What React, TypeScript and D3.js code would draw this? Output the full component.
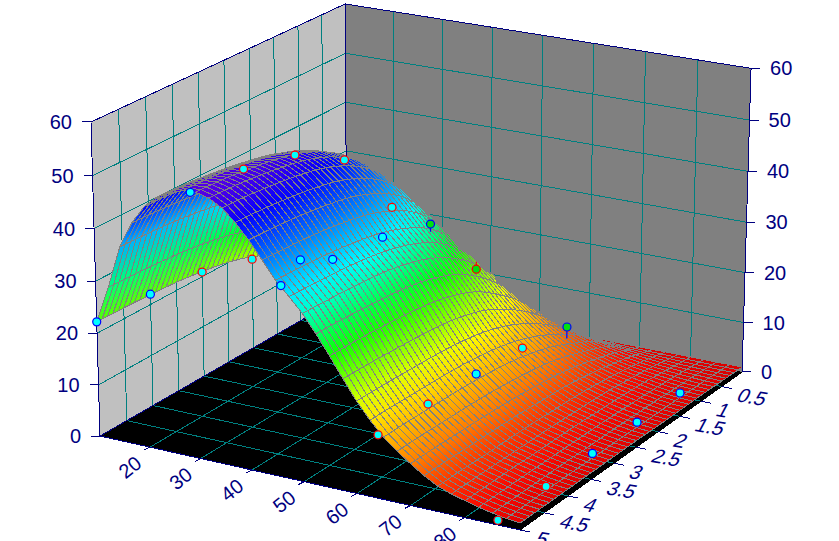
import React from "react";
import * as d3 from "d3";

const W = 839, H = 541;
const xTicks = [20, 30, 40, 50, 60, 70, 80];
const yTicks = [0.5, 1, 1.5, 2, 2.5, 3, 3.5, 4, 4.5, 5];
const zTicks = [0, 10, 20, 30, 40, 50, 60];

// surface readings: one row per y value, one column per x value
const surfaceX = [10, 15, 20, 25, 30, 35, 40, 45, 50, 55, 60, 65, 70, 75, 80, 85, 90];
const surfaceY = [0, 0.5, 1, 1.5, 2, 2.5, 3, 3.5, 4, 4.5, 5];
const surfaceZ = [
  [1, 1, 1, 1, 1, 1, 1, 1, 1, 1, 1, 1, 1, 1, 1, 1, 1],
  [7.1, 11.6, 14.1, 15.1, 15.4, 14.8, 13.3, 11.4, 9.6, 7.5, 5.5, 4.0, 2.9, 2.1, 1.6, 1.3, 1.1],
  [12.2, 20.3, 24.9, 26.7, 27.2, 26.2, 23.5, 20.1, 16.7, 12.8, 9.2, 6.4, 4.4, 3.0, 2.2, 1.5, 1.2],
  [16.1, 26.9, 33.0, 35.4, 36.1, 34.7, 31.2, 26.6, 22.2, 17.0, 12.2, 8.5, 5.7, 3.7, 2.6, 1.7, 1.2],
  [18.6, 31.3, 38.4, 41.3, 42.1, 40.4, 36.3, 30.9, 26.0, 20.3, 14.4, 9.9, 6.6, 4.2, 2.8, 1.8, 1.2],
  [20.1, 33.9, 41.5, 44.7, 45.6, 43.8, 39.3, 33.4, 28.5, 22.3, 15.8, 10.8, 7.1, 4.4, 3.0, 1.9, 1.3],
  [21.0, 35.5, 43.5, 46.8, 47.8, 45.9, 41.2, 35.0, 30.0, 23.5, 16.6, 11.3, 7.5, 4.6, 3.1, 1.9, 1.3],
  [21.6, 36.4, 44.7, 48.0, 49.0, 47.1, 42.2, 35.9, 30.9, 24.1, 17.0, 11.6, 7.7, 4.7, 3.1, 2.0, 1.3],
  [21.9, 37.0, 45.3, 48.8, 49.8, 47.8, 42.9, 36.5, 31.3, 24.5, 17.2, 11.7, 7.8, 4.7, 3.2, 2.0, 1.3],
  [22.1, 37.3, 45.8, 49.3, 50.3, 48.3, 43.3, 36.8, 31.6, 24.8, 17.4, 11.8, 7.9, 4.8, 3.2, 2, 1.3],
  [22.2, 37.5, 46, 49.5, 50.5, 48.5, 43.5, 37, 31.8, 24.9, 17.5, 11.8, 7.9, 4.8, 3.2, 2.0, 1.3],
];

// scatter readings
const pointX = [10, 29, 46, 64, 86];
const pointY = [5, 4, 3, 2, 1];
const pointZ = [
  [22.2, 22.0, 20.9, 18.1, 12.6],
  [50.3, 49.6, 47.3, 41.4, 26.9],
  [36.2, 35.7, 34.6, 31.9, 17.6],
  [12.0, 11.8, 11.7, 11.0, 9.5],
  [0.9, 0.9, 1.0, 1.0, 0.8],
];
const pointEdge = [
  ["#0000ff", "#0000ff", "#ff0000", "#ff0000", "#0000ff"],
  ["#0000ff", "#ff0000", "#ff0000", "#ff0000", "#ff0000"],
  ["#0000ff", "#0000ff", "#0000ff", "#0000ff", "#ff0000"],
  ["#ff0000", "#ff0000", "#0000ff", "#ff0000", "#0000ff"],
  ["#ff0000", "#ff0000", "#0000ff", "#0000ff", "#0000ff"],
];
const pointFill = [
  ["#00ffff", "#00ffff", "#00ffff", "#00ffff", "#00ffff"],
  ["#00ffff", "#00ffff", "#00ffff", "#00ffff", "#00ffff"],
  ["#00ffff", "#00ffff", "#00ffff", "#00e010", "#00e010"],
  ["#00ffff", "#00ffff", "#00ffff", "#00ffff", "#00e010"],
  ["#00ffff", "#00ffff", "#00ffff", "#00ffff", "#00ffff"],
];
// where a point's drop line meets the surface: [x index, y index, z]
const stems: [number, number, number][] = [
  [2, 3, 30.4],
  [2, 4, 19.1],
  [3, 4, 7.2],
  [3, 0, 12.5],
  [3, 1, 12.7],
];

const colorDomain = [0.8, 2.5, 8, 16, 25.5, 33.5, 39, 46, 51];
const colorRange = ["#d80000", "#f80800", "#ff8000", "#ffff00", "#00ff00", "#00ffff", "#0090ff", "#0000ff", "#6000e0"];

const NAVY = "#000080", TEAL = "#008080", MESH = "#808080";
const meshX = 32, meshY = 50;

const sx = d3.scaleLinear().domain([10, 90]).range([0, 1]);
const sy = d3.scaleLinear().domain([5, 0]).range([0, 1]);
const sz = d3.scaleLinear().domain([0, 60]).range([0, 1]);
const color = d3.scaleLinear<string>().domain(colorDomain).range(colorRange).clamp(true);

// projective camera fitted to the box corners
const cam = { a: 391.5, b: 279.5, c: 100, d: 64.9, e: -114.4, f: 436, g: -0.0549, h: 0.0939, k: -0.0278, p: -11.53, q: -317.4 };
function project(x: number, y: number, z: number): [number, number, number] {
  const s = sx(x), t = sy(y), r = sz(z);
  const w = 1 + cam.g * s + cam.h * t + cam.k * r;
  return [(cam.a * s + cam.b * t + cam.c + cam.p * r) / w, (cam.d * s + cam.e * t + cam.f + cam.q * r) / w, w];
}

function cr(p0: number, p1: number, p2: number, p3: number, u: number) {
  return 0.5 * (2 * p1 + (p2 - p0) * u + (2 * p0 - 5 * p1 + 4 * p2 - p3) * u * u + (3 * p1 - p0 - 3 * p2 + p3) * u * u * u);
}
function sample(arr: number[], pos: number) {
  const n = arr.length - 1;
  const i = Math.min(Math.floor(pos), n - 1);
  const at = (j: number) => arr[Math.max(0, Math.min(n, j))];
  return cr(at(i - 1), at(i), at(i + 1), at(i + 2), pos - i);
}
function surfaceAt(px: number, py: number) {
  const col = surfaceZ.map((row) => sample(row, px));
  return sample(col, py);
}

const line = d3.line();
const pathOf = (pts: [number, number, number][], close = false) =>
  line(pts.map((p) => [p[0], p[1]] as [number, number])) + (close ? "Z" : "");

const X0 = 10, X1 = 90, Y0 = 0, Y1 = 5, Z0 = 0, Z1 = 60;

type Cell = { d: string; w: number; c0: string; c1: string; x0: number; y0: number; x1: number; y1: number };

export default function App() {
  const cells: Cell[] = [];
  const xLen = surfaceX.length - 1, yLen = surfaceY.length - 1;
  const zv: number[][] = [];
  for (let j = 0; j <= meshY; j++) {
    const row: number[] = [];
    for (let i = 0; i <= meshX; i++) row.push(surfaceAt((i / meshX) * xLen, (j / meshY) * yLen));
    zv.push(row);
  }
  const mx = d3.scaleLinear().domain([0, meshX]).range([X0, X1]);
  const my = d3.scaleLinear().domain([0, meshY]).range([Y0, Y1]);
  for (let j = 0; j < meshY; j++) {
    for (let i = 0; i < meshX; i++) {
      const pts = [
        project(mx(i), my(j), zv[j][i]),
        project(mx(i + 1), my(j), zv[j][i + 1]),
        project(mx(i + 1), my(j + 1), zv[j + 1][i + 1]),
        project(mx(i), my(j + 1), zv[j + 1][i]),
      ];
      cells.push({
        d: pathOf(pts, true),
        w: d3.mean(pts, (p) => p[2]) as number,
        c0: color((zv[j][i] + zv[j + 1][i]) / 2),
        c1: color((zv[j][i + 1] + zv[j + 1][i + 1]) / 2),
        x0: (pts[0][0] + pts[3][0]) / 2,
        y0: (pts[0][1] + pts[3][1]) / 2,
        x1: (pts[1][0] + pts[2][0]) / 2,
        y1: (pts[1][1] + pts[2][1]) / 2,
      });
    }
  }
  cells.sort((u, v) => v.w - u.w);

  const gridLines: string[] = [];
  const inner = zTicks.slice(1, -1);
  xTicks.forEach((x) => {
    gridLines.push(pathOf([project(x, Y1, Z0), project(x, Y0, Z0), project(x, Y0, Z1)]));
  });
  yTicks.slice(0, -1).forEach((y) => {
    gridLines.push(pathOf([project(X1, y, Z0), project(X0, y, Z0), project(X0, y, Z1)]));
  });
  inner.forEach((z) => {
    gridLines.push(pathOf([project(X0, Y1, z), project(X0, Y0, z), project(X1, Y0, z)]));
  });

  const font = { fontFamily: "'Liberation Sans', Arial, sans-serif", fontSize: 20, fill: NAVY };

  return (
    <svg width={W} height={H} style={{ position: "absolute", left: 0, top: 0, background: "#fff" }}>
      <defs>
        {cells.map((c, i) => (
          <linearGradient key={i} id={`c${i}`} gradientUnits="userSpaceOnUse" x1={c.x0} y1={c.y0} x2={c.x1} y2={c.y1}>
            <stop offset="0" stopColor={c.c0} />
            <stop offset="1" stopColor={c.c1} />
          </linearGradient>
        ))}
      </defs>
      <g shapeRendering="crispEdges">
        <path d={pathOf([project(X0, Y1, Z0), project(X0, Y0, Z0), project(X0, Y0, Z1), project(X0, Y1, Z1)], true)} fill="#c0c0c0" />
        <path d={pathOf([project(X0, Y0, Z0), project(X1, Y0, Z0), project(X1, Y0, Z1), project(X0, Y0, Z1)], true)} fill="#808080" />
        <path d={pathOf([project(X0, Y1, Z0), project(X1, Y1, Z0), project(X1, Y0, Z0), project(X0, Y0, Z0)], true)} fill="#000" />
        {gridLines.map((d, i) => (
          <path key={i} d={d} fill="none" stroke={TEAL} strokeWidth={1} />
        ))}
        <path
          d={pathOf([project(X1, Y1, Z0), project(X0, Y1, Z0), project(X0, Y1, Z1), project(X0, Y0, Z1), project(X1, Y0, Z1), project(X1, Y0, Z0)])}
          fill="none"
          stroke={NAVY}
        />
        <path d={pathOf([project(X0, Y1, Z0), project(X0, Y0, Z0), project(X0, Y0, Z1)])} fill="none" stroke={NAVY} />
        <path d={pathOf([project(X1, Y1, Z0), project(X1, Y0, Z0)])} fill="none" stroke="#000" />
        {zTicks.map((z) => {
          const l = project(X0, Y1, z), r = project(X1, Y0, z);
          return (
            <g key={z} stroke={NAVY}>
              <line x1={l[0] - 9} y1={l[1]} x2={l[0]} y2={l[1]} />
              <line x1={r[0]} y1={r[1]} x2={r[0] + 9} y2={r[1]} />
            </g>
          );
        })}
        {xTicks.map((x) => {
          const p = project(x, Y1, Z0);
          return <line key={x} x1={p[0]} y1={p[1]} x2={p[0] - 6} y2={p[1] + 3} stroke={NAVY} />;
        })}
        {yTicks.map((y) => {
          const p = project(X1, y, Z0);
          return <line key={y} x1={p[0]} y1={p[1]} x2={p[0] + 10} y2={p[1] + 2} stroke={NAVY} />;
        })}
        {cells.map((c, i) => (
          <path key={i} d={c.d} fill={`url(#c${i})`} stroke={MESH} strokeWidth={1} />
        ))}
      </g>
      {stems.map(([xi, yi, z], i) => {
        const a = project(pointX[xi], pointY[yi], pointZ[xi][yi]);
        const b = project(pointX[xi], pointY[yi], z);
        return <line key={i} x1={a[0]} y1={a[1]} x2={b[0]} y2={b[1]} stroke={pointEdge[xi][yi]} strokeWidth={1.2} />;
      })}
      {pointX.map((x, xi) =>
        pointY.map((y, yi) => {
          const p = project(x, y, pointZ[xi][yi]);
          return (
            <circle key={`${xi}-${yi}`} cx={p[0]} cy={p[1]} r={4} fill={pointFill[xi][yi]} stroke={pointEdge[xi][yi]} strokeWidth={1.2} />
          );
        })
      )}
      {zTicks.map((z) => {
        const l = project(X0, Y1, z), r = project(X1, Y0, z);
        return (
          <g key={z} {...font}>
            <text x={l[0] - 19} y={l[1] + 7} textAnchor="end">{z}</text>
            <text x={r[0] + 19} y={r[1] + 7}>{z}</text>
          </g>
        );
      })}
      {xTicks.map((x) => {
        const p = project(x, Y1, Z0);
        return (
          <text key={x} {...font} textAnchor="middle" dy="0.35em" transform={`translate(${p[0] - 20},${p[1] + 20}) rotate(-38)`}>
            {x}
          </text>
        );
      })}
      {yTicks.map((y) => {
        const p = project(X1, y, Z0);
        return (
          <text key={y} {...font} dy="0.35em" transform={`translate(${p[0] + 17},${p[1] + 8}) rotate(10) skewX(-18)`}>
            {y}
          </text>
        );
      })}
    </svg>
  );
}
